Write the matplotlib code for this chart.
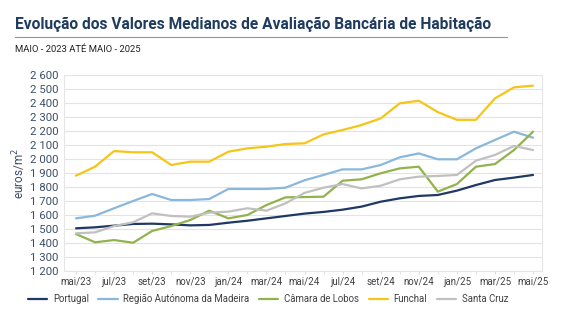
import matplotlib.pyplot as plt
from matplotlib.ticker import FuncFormatter

# Data (euros/m2), mai/23 .. mai/25
months = ["mai/23", "jun/23", "jul/23", "ago/23", "set/23", "out/23", "nov/23", "dez/23",
          "jan/24", "fev/24", "mar/24", "abr/24", "mai/24", "jun/24", "jul/24", "ago/24",
          "set/24", "out/24", "nov/24", "dez/24", "jan/25", "fev/25", "mar/25", "abr/25", "mai/25"]

portugal = [1505, 1512, 1524, 1536, 1538, 1533, 1526, 1529, 1545, 1559, 1576, 1593, 1610,
            1622, 1638, 1660, 1695, 1719, 1736, 1743, 1774, 1814, 1850, 1867, 1886]
madeira = [1576, 1595, 1648, 1700, 1750, 1707, 1707, 1714, 1786, 1786, 1786, 1795, 1848,
           1886, 1926, 1926, 1957, 2012, 2040, 1998, 1998, 2076, 2136, 2195, 2152]
camara_lobos = [1464, 1405, 1421, 1402, 1486, 1521, 1564, 1631, 1576, 1600, 1671, 1726, 1728,
                1731, 1845, 1855, 1898, 1933, 1945, 1767, 1821, 1945, 1964, 2064, 2195]
funchal = [1881, 1945, 2057, 2048, 2048, 1957, 1981, 1981, 2052, 2076, 2088, 2107, 2112,
           2176, 2207, 2243, 2290, 2398, 2416, 2335, 2280, 2280, 2433, 2512, 2524]
santa_cruz = [1469, 1476, 1521, 1548, 1612, 1593, 1588, 1617, 1624, 1648, 1631, 1683, 1758,
              1795, 1821, 1790, 1809, 1855, 1874, 1879, 1886, 1988, 2029, 2093, 2064]

series = [
    ("Portugal", portugal, "#1f3864"),
    ("Região Autónoma da Madeira", madeira, "#8ab8dc"),
    ("Câmara de Lobos", camara_lobos, "#92b24c"),
    ("Funchal", funchal, "#f5c518"),
    ("Santa Cruz", santa_cruz, "#c0c0c0"),
]

plt.rcParams['font.family'] = ['Roboto', 'DejaVu Sans']

fig = plt.figure(figsize=(5.64, 3.32), dpi=100)
ax = fig.add_axes([64 / 564, 1 - 271 / 332, (542 - 64) / 564, (271 - 75) / 332])

x = list(range(len(months)))
for name, vals, col in series:
    ax.plot(x, vals, color=col, lw=1.6, label=name, solid_capstyle="round")

ax.set_ylim(1200, 2600)
ax.set_yticks(range(1200, 2601, 100))
ax.yaxis.set_major_formatter(FuncFormatter(lambda v, p: f"{int(v):,}".replace(",", " ")))
ax.set_xlim(-0.63, 24.47)
ax.set_xticks(x[::2])
ax.set_xticklabels(months[::2])
ax.set_xticks(x, minor=True)

ax.grid(axis="y", color="#e3e3e3", lw=0.8)
ax.set_axisbelow(True)
for s in ["left", "right", "bottom"]:
    ax.spines[s].set_color("#e6e6e6")
    ax.spines[s].set_linewidth(0.8)
ax.spines["top"].set_visible(False)

ax.tick_params(axis="y", length=0, labelsize=8.2, labelcolor="#3d4f66", pad=4)
ax.tick_params(axis="x", which="both", length=2, color="#dddddd", labelsize=7, labelcolor="#404040", pad=2)
ax.set_ylabel("euros/m$^2$", fontsize=8.5, color="#3d4f66", labelpad=1)

# title block
fig.text(15 / 564, 1 - 24 / 332, "Evolução dos Valores Medianos de Avaliação Bancária de Habitação",
         fontsize=11.2, fontweight="bold", color="#1f3b5e", va="center", ha="left")
fig.add_artist(plt.Line2D([15 / 564, 507 / 564], [1 - 37 / 332, 1 - 37 / 332],
                          color="#8a96a6", lw=0.8))
fig.text(15 / 564, 1 - 50 / 332, "MAIO - 2023 ATÉ MAIO - 2025",
         fontsize=6.8, color="#222222", va="center", ha="left")

fig.legend(loc="center", bbox_to_anchor=(268 / 564, 1 - 299 / 332), ncol=5, frameon=False,
           fontsize=6.9, handlelength=2.0, columnspacing=1.0, handletextpad=0.6,
           labelcolor="#404040")

fig.savefig("out.png", dpi=100, facecolor="white")
